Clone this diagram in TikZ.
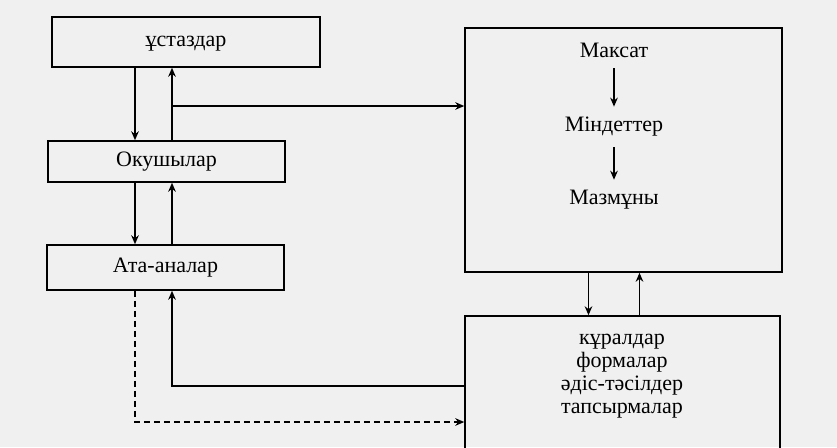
\documentclass[tikz,border=0pt]{standalone}
\usepackage{fontspec}
\setmainfont{Liberation Serif}
\usetikzlibrary{arrows.meta}

\begin{document}
\begin{tikzpicture}[x=0.5pt,y=-0.5pt,>={Stealth[length=4.5pt,width=3.8pt]},line width=0.75pt,
    box/.style={draw,rectangle,inner sep=0pt},
    word/.style={inner sep=1pt,font=\fontsize{11}{11.5}\selectfont}]
      \useasboundingbox[fill=black!6] (0,0) rectangle (837,447);
      \clip (0,0) rectangle (837,447);

      \node[box,minimum width=134pt,minimum height=25pt] (teach) at (186,42) {};
      \node[word] at (186,44) {ұстаздар};
      \node[box,minimum width=118.5pt,minimum height=20.5pt] (pupil) at (166.5,161.5) {};
      \node[word] at (pupil) {Окушылар};
      \node[box,minimum width=118.5pt,minimum height=22.5pt] (parent) at (165.5,267.5) {};
      \node[word] at (parent) {Ата-аналар};

      \node[box,minimum width=158.5pt,minimum height=122pt] (goalbox) at (623.5,150) {};
      \node[word] (goal) at (614,50) {Максат};
      \node[word] (task) at (614,127) {Міндеттер};
      \node[word] (content) at (614,200) {Мазмұны};

      \node[box,minimum width=157.5pt,minimum height=80pt] (meansbox) at (622.5,396) {};
      \node[word,align=center,anchor=north] (means) at (622,331) {кұралдар\\формалар\\әдіс-тәсілдер\\тапсырмалар};

      \coordinate (down) at (135,0);
      \coordinate (up) at (172,0);
      \coordinate (branch) at (172,106);
      \coordinate (back) at (0,386);
      \coordinate (dash) at (0,422);

      \path[->]
      (teach.south -| down) edge (pupil.north -| down)
      (pupil.north -| up) edge (teach.south -| up)
      (pupil.south -| down) edge (parent.north -| down)
      (parent.north -| up) edge (pupil.south -| up)
      (branch) edge (goalbox.west |- branch)

      (goal) edge[shorten <=4pt,shorten >=4pt] (task)
      (task) edge[shorten <=4pt,shorten >=4pt] (content)

      ([xshift=-17.5pt]goalbox.south) edge ([xshift=-17pt]meansbox.north)
      ([xshift=8.5pt]meansbox.north) edge ([xshift=8pt]goalbox.south)
      ;

      \draw[->] (meansbox.west |- back) -| (parent.south -| up);
      \draw[->,dash pattern=on 3pt off 2pt] (parent.south -| down) |- (meansbox.west |- dash);
    \end{tikzpicture}
\end{document}
